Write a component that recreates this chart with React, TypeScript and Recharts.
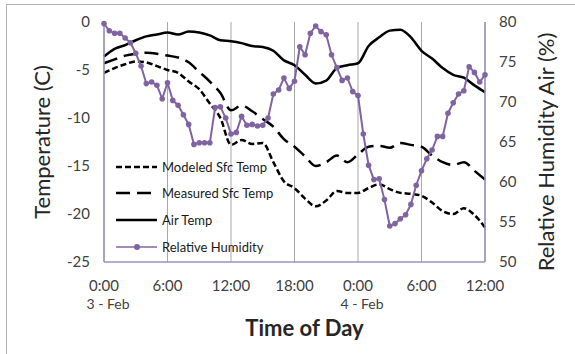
import React from "react";
import { ComposedChart, Line, XAxis, YAxis, CartesianGrid, Legend, Label } from "recharts";

// hours since 0:00 on 3 Feb, hourly for temps
const HOURS = [
  0, 1, 2, 3, 4, 5, 6, 7, 8, 9, 10, 11, 12, 13, 14, 15, 16, 17, 18,
  19, 20, 21, 22, 23, 24, 25, 26, 27, 28, 29, 30, 31, 32, 33, 34, 35, 36,
];

const AIR_TEMP = [
  -3.6, -2.8, -2.4, -1.9, -1.5, -1.3, -1.1, -1.3, -1.0, -1.1, -1.4, -1.9, -2.0,
  -2.2, -2.5, -2.6, -3.0, -4.0, -4.5, -5.5, -6.4, -6.1, -4.8, -4.5, -4.3,
  -2.5, -1.6, -0.9, -0.8, -1.6, -3.0, -3.8, -4.8, -5.5, -5.8, -6.6, -7.3,
];

const MEASURED_SFC = [
  -4.3, -3.9, -3.5, -3.3, -3.2, -3.3, -3.5, -3.7, -4.2, -5.2, -6.2, -7.4, -9.2,
  -8.7, -9.3, -10.1, -10.9, -12.2, -13.0, -14.0, -15.0, -14.6, -13.9, -14.6, -13.8,
  -13.0, -12.9, -13.1, -12.6, -12.8, -13.0, -13.9, -14.6, -14.9, -14.6, -15.5, -16.4,
];

const MODELED_SFC = [
  -5.3, -4.8, -4.4, -4.1, -4.2, -4.6, -5.0, -5.3, -6.2, -7.0, -8.5, -10.0, -12.8,
  -12.3, -12.7, -12.6, -14.6, -16.6, -17.3, -18.4, -19.2, -18.6, -17.6, -17.8, -17.8,
  -17.3, -16.9, -17.4, -17.8, -17.9, -18.1, -18.8, -19.7, -20.0, -19.4, -20.1, -21.4,
];

// relative humidity, every half hour from 0:00
const RH_HOURS = [
  0, 0.5, 1, 1.5, 2, 2.5, 3, 3.5, 4, 4.5, 5, 5.5,
  6, 6.5, 7, 7.5, 8, 8.5, 9, 9.5, 10, 10.5, 11, 11.5,
  12, 12.5, 13, 13.5, 14, 14.5, 15, 15.5, 16, 16.5, 17, 17.5,
  18, 18.5, 19, 19.5, 20, 20.5, 21, 21.5, 22, 22.5, 23, 23.5,
  24, 24.5, 25, 25.5, 26, 26.5, 27, 27.5, 28, 28.5, 29, 29.5,
  30, 30.5, 31, 31.5, 32, 32.5, 33, 33.5, 34, 34.5, 35, 35.5,
  36,
];

const RH = [
  79.8, 78.9, 78.6, 78.6, 78.0, 77.4, 76.1, 74.5, 72.3, 72.5, 72.1, 70.4,
  72.4, 70.2, 69.6, 68.4, 67.2, 64.7, 64.9, 64.9, 64.9, 69.3, 69.4, 68.0,
  66.0, 66.2, 68.2, 67.1, 67.2, 67.0, 67.1, 68.0, 71.0, 71.5, 73.0, 71.7,
  72.6, 76.9, 75.9, 78.6, 79.5, 78.8, 78.4, 75.9, 74.3, 72.7, 73.0, 71.3,
  70.8, 66.0, 62.1, 60.3, 60.4, 57.8, 54.5, 54.8, 55.4, 55.9, 57.2, 59.6,
  61.4, 62.9, 64.0, 65.7, 65.7, 68.6, 69.9, 71.0, 71.4, 74.4, 73.7, 72.5,
  73.4,
];

const X_TICKS = [0, 6, 12, 18, 24, 30, 36];
const DATE_LABELS: Record<number, string> = { 0: "3 - Feb", 24: "4 - Feb" };
const TEMP_TICKS = [-25, -20, -15, -10, -5, 0];
const RH_TICKS = [50, 55, 60, 65, 70, 75, 80];

const FONT = "Lato, 'Open Sans', sans-serif";
const AXIS_COLOR = "#9b91c4";
const RH_COLOR = "#8064a2";

const data = RH_HOURS.map((t, i) => {
  const row: Record<string, number | null> = { t, rh: RH[i], air: null, measured: null, modeled: null };
  const h = HOURS.indexOf(t);
  if (h >= 0) {
    row.air = AIR_TEMP[h];
    row.measured = MEASURED_SFC[h];
    row.modeled = MODELED_SFC[h];
  }
  return row;
});

function TimeTick(props: any) {
  const { x, y, payload } = props;
  const v = payload.value as number;
  const date = DATE_LABELS[v];
  return (
    <g>
      <text x={x} y={y + 29} textAnchor="middle" fill="#404040" fontSize={15} fontFamily={FONT}>
        {`${v % 24}:00`}
      </text>
      {date && (
        <text x={x + 4} y={y + 47} textAnchor="middle" fill="#404040" fontSize={14} fontFamily={FONT}>
          {date}
        </text>
      )}
    </g>
  );
}

function LegendBox() {
  const rows = [
    { name: "Modeled Sfc Temp", dash: "6 3", w: 2.5, color: "#000", dot: false },
    { name: "Measured Sfc Temp", dash: "14 7", w: 2.5, color: "#000", dot: false },
    { name: "Air Temp", dash: undefined, w: 2.5, color: "#000", dot: false },
    { name: "Relative Humidity", dash: undefined, w: 1.5, color: RH_COLOR, dot: true },
  ];
  const ys = [12, 38, 65, 92];
  return (
    <svg width={180} height={104} style={{ display: "block" }}>
      {rows.map((r, i) => (
        <g key={r.name}>
          <line x1={4} x2={45} y1={ys[i]} y2={ys[i]} stroke={r.color} strokeWidth={r.w} strokeDasharray={r.dash} />
          {r.dot && <circle cx={25} cy={ys[i]} r={3} fill={r.color} />}
          <text x={50} y={ys[i]} dominantBaseline="central" fontSize={13} fontFamily={FONT} fill="#1a1a1a">
            {r.name}
          </text>
        </g>
      ))}
    </svg>
  );
}

export default function App() {
  return (
    <div style={{ position: "absolute", left: 0, top: 0, width: 575, height: 354, background: "#fff", overflow: "hidden" }}>
      <div style={{ position: "absolute", left: 6, top: 4, width: 575, height: 360, border: "1px solid #b0b0b0" }} />
      <ComposedChart
        width={575}
        height={354}
        data={data}
        margin={{ top: 22, right: 0, bottom: 0, left: 0 }}
        style={{ position: "absolute", left: 0, top: 0 }}
      >
        <CartesianGrid horizontal={false} stroke="#a8a8a8" strokeWidth={1} />
        <XAxis
          dataKey="t"
          type="number"
          domain={[0, 36]}
          ticks={X_TICKS}
          height={92}
          tickLine={false}
          tickSize={0}
          tickMargin={0}
          stroke={AXIS_COLOR}
          strokeWidth={1.5}
          tick={<TimeTick />}
          interval={0}
        >
          <Label value="Time of Day" position="insideTop" offset={58} dx={10} fontSize={22} fontWeight="bold" fontFamily={FONT} fill="#262626" />
        </XAxis>
        <YAxis
          yAxisId="temp"
          domain={[-25, 0]}
          ticks={TEMP_TICKS}
          width={104}
          tickLine={false}
          tickSize={0}
          tickMargin={14}
          stroke={AXIS_COLOR}
          strokeWidth={1.5}
          tick={{ fill: "#404040", fontSize: 15, fontFamily: FONT }}
        >
          <Label value="Temperature (C)" angle={-90} position="center" dx={-10} fontSize={22} fontFamily={FONT} fill="#262626" />
        </YAxis>
        <YAxis
          yAxisId="rh"
          orientation="right"
          domain={[50, 80]}
          ticks={RH_TICKS}
          width={90}
          tickLine={false}
          tickSize={0}
          tickMargin={14}
          stroke={AXIS_COLOR}
          strokeWidth={1.5}
          tick={{ fill: "#404040", fontSize: 15, fontFamily: FONT, textAnchor: "start" }}
        >
          <Label value="Relative Humidity Air (%)" angle={-90} position="center" dx={16} dy={10} fontSize={22} fontFamily={FONT} fill="#262626" />
        </YAxis>
        <Legend
          layout="vertical"
          align="center"
          verticalAlign="middle"
          content={() => <LegendBox />}
          wrapperStyle={{ left: 112, top: 155, width: 180, height: 104 }}
        />
        <Line yAxisId="temp" dataKey="modeled" name="Modeled Sfc Temp" type="monotone" stroke="#000" strokeWidth={2.5} strokeDasharray="6 3" dot={false} connectNulls isAnimationActive={false} />
        <Line yAxisId="temp" dataKey="measured" name="Measured Sfc Temp" type="monotone" stroke="#000" strokeWidth={2.5} strokeDasharray="14 7" dot={false} connectNulls isAnimationActive={false} />
        <Line yAxisId="temp" dataKey="air" name="Air Temp" type="monotone" stroke="#000" strokeWidth={2.5} dot={false} connectNulls isAnimationActive={false} />
        <Line yAxisId="rh" dataKey="rh" name="Relative Humidity" type="linear" stroke={RH_COLOR} strokeWidth={2} dot={{ r: 2.8, fill: RH_COLOR, stroke: RH_COLOR, strokeWidth: 0 }} isAnimationActive={false} />
      </ComposedChart>
    </div>
  );
}
